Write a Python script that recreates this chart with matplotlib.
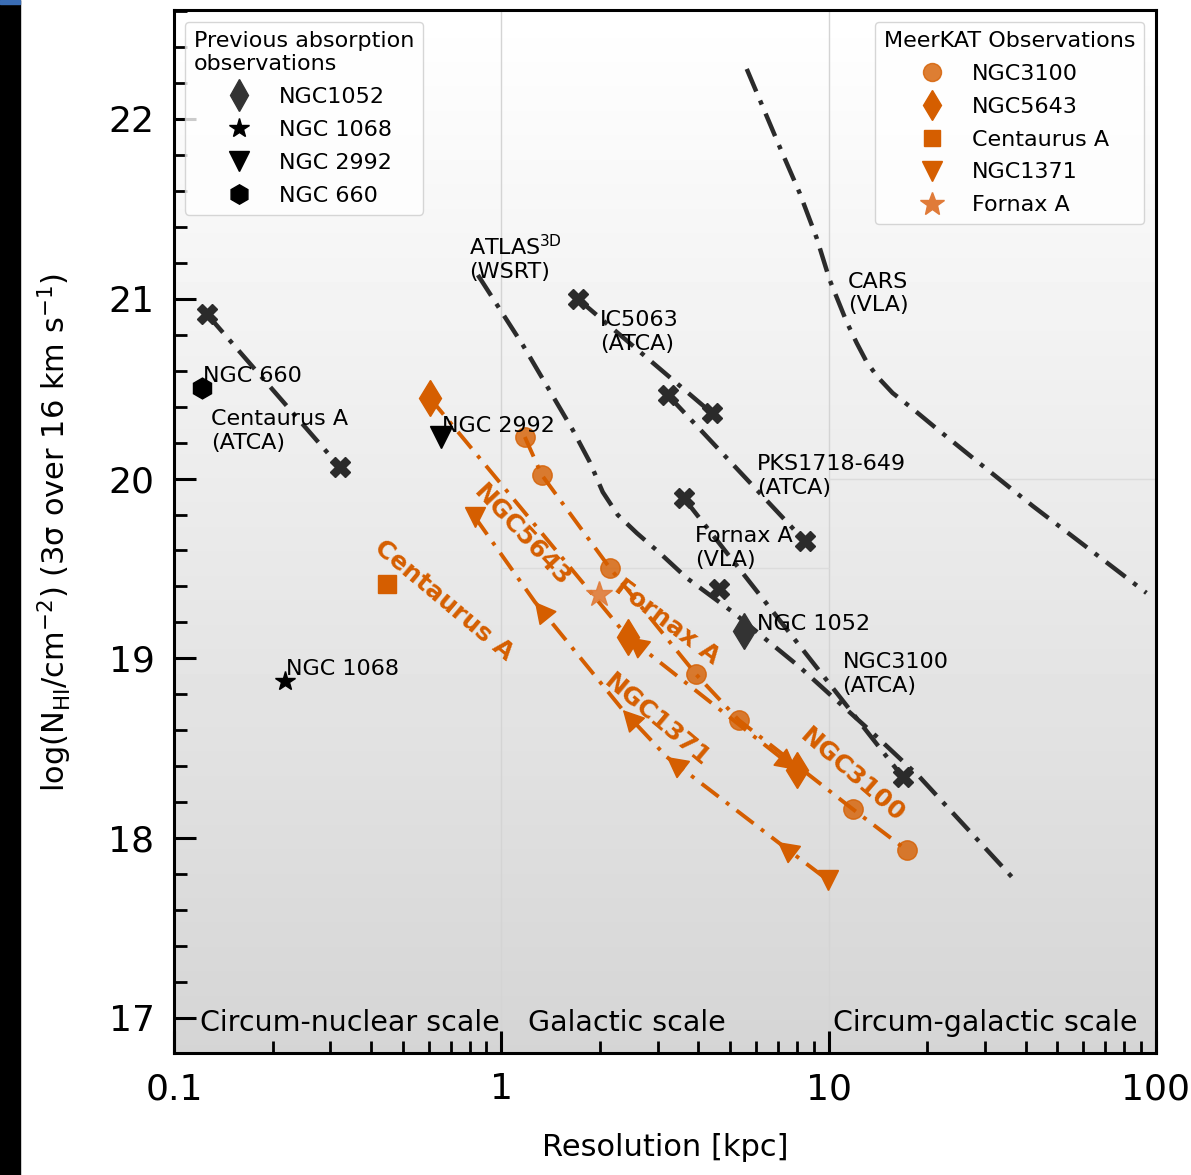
import numpy as np
import matplotlib
matplotlib.use('Agg')
import matplotlib.pyplot as plt
import matplotlib.ticker as ticker
from matplotlib.lines import Line2D
from matplotlib.patches import Rectangle

# ── previous absorption observations (crosses joined by dash-dot lines) ──
CENA_X = [0.126, 0.321]
CENA_Y = [20.915, 20.065]
IC5063_X = [1.713, 4.391]
IC5063_Y = [20.999, 20.365]
PKS_X = [3.224, 8.447]
PKS_Y = [20.465, 19.653]
FORNAX_VLA_X = [3.608, 16.83]
FORNAX_VLA_Y = [19.892, 18.340]
SINGLE_X = [4.615]
SINGLE_Y = [19.386]

# sensitivity curves
ATLAS_X = [0.848, 1.163, 1.653, 1.863, 2.041, 2.268, 2.593, 3.048, 3.685,
           5.091, 6.467, 8.155, 10.29, 13.63, 18.97, 37.5]
ATLAS_Y = [21.132, 20.743, 20.270, 20.092, 19.925, 19.798, 19.697, 19.586,
           19.447, 19.258, 19.102, 18.952, 18.785, 18.585, 18.340, 17.756]
CARS_X = [5.62, 7.087, 8.155, 9.19, 10.07, 11.35, 12.18, 13.06, 14.11, 15.68,
          17.92, 21.07, 28.31, 41.98, 59.66, 93.5]
CARS_Y = [22.278, 21.844, 21.588, 21.338, 21.105, 20.871, 20.754, 20.649,
          20.565, 20.476, 20.393, 20.287, 20.098, 19.848, 19.636, 19.364]

# single previous detections
N1052 = (5.502, 19.152)
N1068 = (0.2183, 18.874)
N2992 = (0.6535, 20.231)
N660 = (0.1218, 20.504)

# ── MeerKAT observations ──
N3100_X = [1.180, 1.329, 2.145, 3.925, 5.312, 11.84, 17.31]
N3100_Y = [20.231, 20.020, 19.503, 18.913, 18.657, 18.162, 17.934]
N5643_X = [0.605, 2.433, 7.985]
N5643_Y = [20.448, 19.119, 18.379]
CENA_MK = (0.447, 19.414)
N1371_X = [0.830, 1.266, 2.350, 3.201, 6.988, 9.93]
N1371_Y = [19.786, 19.314, 18.713, 18.452, 17.979, 17.768]
FORNAX_MK = (1.985, 19.358)

XTICKS = [0.1, 1, 10, 100]
XTICKLABELS = ['0.1', '1', '10', '100']
YTICKS = [17, 18, 19, 20, 21, 22]

ORANGE = '#d55e00'
DARK = '0.17'

fig = plt.figure(figsize=(11.91, 11.75), dpi=100)
ax = fig.add_axes([0.1461, 0.1038, 0.8245, 0.8877])

# gradient background
grad = np.linspace(1.0, 0.835, 256).reshape(-1, 1)
ax.imshow(grad, extent=[0, 1, 0, 1], transform=ax.transAxes, cmap='gray',
          vmin=0, vmax=1, aspect='auto', zorder=0)

ax.set_xscale('log')
ax.set_xlim(0.1, 100)
ax.set_ylim(16.805, 22.606)

# faint region edges
for xv in [1, 10]:
    ax.axvline(xv, color='#d4d4d4', lw=1, zorder=0.5)
ax.hlines(19.5, 1, 10, color='#dcdcdc', lw=1, zorder=0.5)
ax.hlines(20.0, 10, 100, color='#dcdcdc', lw=1, zorder=0.5)

dd = (5.5, 2.2, 1.0, 2.2)
for xs, ys in [(CENA_X, CENA_Y), (IC5063_X, IC5063_Y), (PKS_X, PKS_Y),
               (FORNAX_VLA_X, FORNAX_VLA_Y)]:
    ax.plot(xs, ys, color=DARK, lw=3.2, dashes=dd, marker='X', ms=15,
            mec=DARK, zorder=3)
ax.plot(SINGLE_X, SINGLE_Y, ls='none', marker='X', ms=15, color=DARK, zorder=3)
ax.plot(ATLAS_X, ATLAS_Y, color=DARK, lw=3.2, dashes=dd, zorder=2)
ax.plot(CARS_X, CARS_Y, color=DARK, lw=3.2, dashes=dd, zorder=2)

ax.plot(*N1052, marker='d', ms=18, color='#333333', ls='none', zorder=4)
ax.plot(*N1068, marker='*', ms=15, color='black', ls='none', zorder=4)
ax.plot(*N2992, marker='v', ms=16, color='black', ls='none', zorder=4)
ax.plot(*N660, marker='h', ms=15, color='black', ls='none', zorder=4)

# MeerKAT series
od = (5.5, 2.4, 1.0, 2.4)
ax.plot(N3100_X, N3100_Y, color=ORANGE, lw=2.8, dashes=od, zorder=5)
ax.plot(N3100_X, N3100_Y, ls='none', marker='o', ms=14, color=ORANGE,
        alpha=0.8, zorder=6)
ax.plot(N5643_X, N5643_Y, color=ORANGE, lw=2.8, dashes=od, marker='d',
        ms=18, zorder=5)
ax.plot(N1371_X, N1371_Y, color=ORANGE, lw=2.8, dashes=od, zorder=5)
ax.plot([N1371_X[0], N1371_X[-1]], [N1371_Y[0], N1371_Y[-1]], ls='none',
        marker='v', ms=15, color=ORANGE, zorder=6)
ax.plot(*CENA_MK, marker='s', ms=12.5, color=ORANGE, ls='none', zorder=6)
ax.plot(*FORNAX_MK, marker='*', ms=19, color='#e07b39', alpha=0.9,
        ls='none', zorder=6)


def head(xs, ys, i, j):
    # arrow head at point i, pointing away from point j
    p = ax.transData.transform((xs[i], ys[i]))
    q = ax.transData.transform((xs[j], ys[j]))
    d = (q - p) / np.hypot(*(q - p))
    off = d * 20 * 72 / fig.dpi
    ax.annotate('', xy=(xs[i], ys[i]), xytext=(off[0], off[1]),
                textcoords='offset points',
                arrowprops=dict(arrowstyle='-|>,head_length=0.85,head_width=0.45',
                                color=ORANGE, lw=1.2, mutation_scale=16,
                                shrinkA=0, shrinkB=0), zorder=7)


for i in range(1, len(N1371_X) - 1):
    head(N1371_X, N1371_Y, i, i + 1)
head(N5643_X, N5643_Y, 1, 2)
head(N5643_X, N5643_Y, 2, 1)

# labels for previous observations
tk = dict(fontsize=16, color='black', ha='left', va='center', zorder=8)
ax.text(0.1297, 20.265, 'Centaurus A\n(ATCA)', **tk)
ax.text(0.1226, 20.571, 'NGC 660', **tk)
ax.text(0.658, 20.293, 'NGC 2992', **tk)
ax.text(0.2198, 18.941, 'NGC 1068', **tk)
ax.text(0.796, 21.227, 'ATLAS$^{\\rm 3D}$\n(WSRT)', **tk)
ax.text(2.0, 20.815, 'IC5063\n(ATCA)', **tk)
ax.text(11.43, 21.027, 'CARS\n(VLA)', **tk)
ax.text(6.03, 20.014, 'PKS1718-649\n(ATCA)', **tk)
ax.text(3.897, 19.614, 'Fornax A\n(VLA)', **tk)
ax.text(6.03, 19.191, 'NGC 1052', **tk)
ax.text(11.03, 18.913, 'NGC3100\n(ATCA)', **tk)

# rotated MeerKAT labels
ok = dict(fontsize=18, fontweight='bold', color=ORANGE, ha='center',
          va='center', rotation_mode='anchor', zorder=8)
ax.text(0.667, 19.325, 'Centaurus A', rotation=-40, **ok)
ax.text(1.155, 19.681, 'NGC5643', rotation=-47, **ok)
ax.text(3.201, 19.202, 'Fornax A', rotation=-37, **ok)
ax.text(2.985, 18.657, 'NGC1371', rotation=-40, **ok)
ax.text(11.84, 18.352, 'NGC3100', rotation=-41, **ok)

# scale labels
sk = dict(fontsize=20.5, color='black', ha='left', va='center', zorder=8)
ax.text(0.120, 16.972, 'Circum-nuclear scale', **sk)
ax.text(1.205, 16.972, 'Galactic scale', **sk)
ax.text(10.28, 16.972, 'Circum-galactic scale', **sk)

# ticks
ax.set_xticks(XTICKS)
ax.set_xticklabels(XTICKLABELS)
ax.set_yticks(YTICKS)
ax.yaxis.set_minor_locator(ticker.MultipleLocator(0.2))
ax.tick_params(which='major', direction='in', length=16, width=2.2,
               labelsize=26, pad=14, top=False, right=False)
ax.tick_params(which='minor', direction='in', length=9, width=2,
               top=False, right=False)
for s in ax.spines.values():
    s.set_linewidth(2.2)

fig.text(665 / 1191, 1 - 1147 / 1175, 'Resolution [kpc]', fontsize=22,
         ha='center', va='center')
fig.text(55 / 1191, 1 - 532 / 1175,
         'log(N$_{\\rm HI}$/cm$^{-2}$) (3σ over 16 km s$^{-1}$)',
         fontsize=22, ha='center', va='center', rotation=90)

# legends
prev_handles = [
    Line2D([], [], ls='none', marker='d', ms=16, color='#333333', label='NGC1052'),
    Line2D([], [], ls='none', marker='*', ms=15, color='black', label='NGC 1068'),
    Line2D([], [], ls='none', marker='v', ms=15, color='black', label='NGC 2992'),
    Line2D([], [], ls='none', marker='h', ms=14, color='black', label='NGC 660'),
]
leg1 = ax.legend(handles=prev_handles, title='Previous absorption\nobservations',
                 loc='upper left', bbox_to_anchor=(0.0112, 0.9885),
                 borderaxespad=0, fontsize=16, title_fontsize=16,
                 labelspacing=0.58)
leg1.get_title().set_multialignment('left')
leg1.set_zorder(10)
ax.add_artist(leg1)

mk_handles = [
    Line2D([], [], ls='none', marker='o', ms=13, color=ORANGE, alpha=0.8, label='NGC3100'),
    Line2D([], [], ls='none', marker='d', ms=15, color=ORANGE, label='NGC5643'),
    Line2D([], [], ls='none', marker='s', ms=12, color=ORANGE, label='Centaurus A'),
    Line2D([], [], ls='none', marker='v', ms=14, color=ORANGE, label='NGC1371'),
    Line2D([], [], ls='none', marker='*', ms=18, color='#e07b39', label='Fornax A'),
]
leg2 = ax.legend(handles=mk_handles, title='MeerKAT Observations',
                 loc='upper right', bbox_to_anchor=(0.9878, 0.9885),
                 borderaxespad=0, fontsize=16, title_fontsize=16,
                 labelspacing=0.58)
leg2.set_zorder(10)

# dark strip on the left edge of the original image
fig.patches.append(Rectangle((0, 0), 20 / 1191, 1, transform=fig.transFigure,
                             color='black', zorder=-1))
fig.patches.append(Rectangle((0, 1 - 4 / 1175), 20 / 1191, 4 / 1175,
                             transform=fig.transFigure, color='#3a6db5',
                             zorder=0))

fig.savefig('out.png', dpi=100)
